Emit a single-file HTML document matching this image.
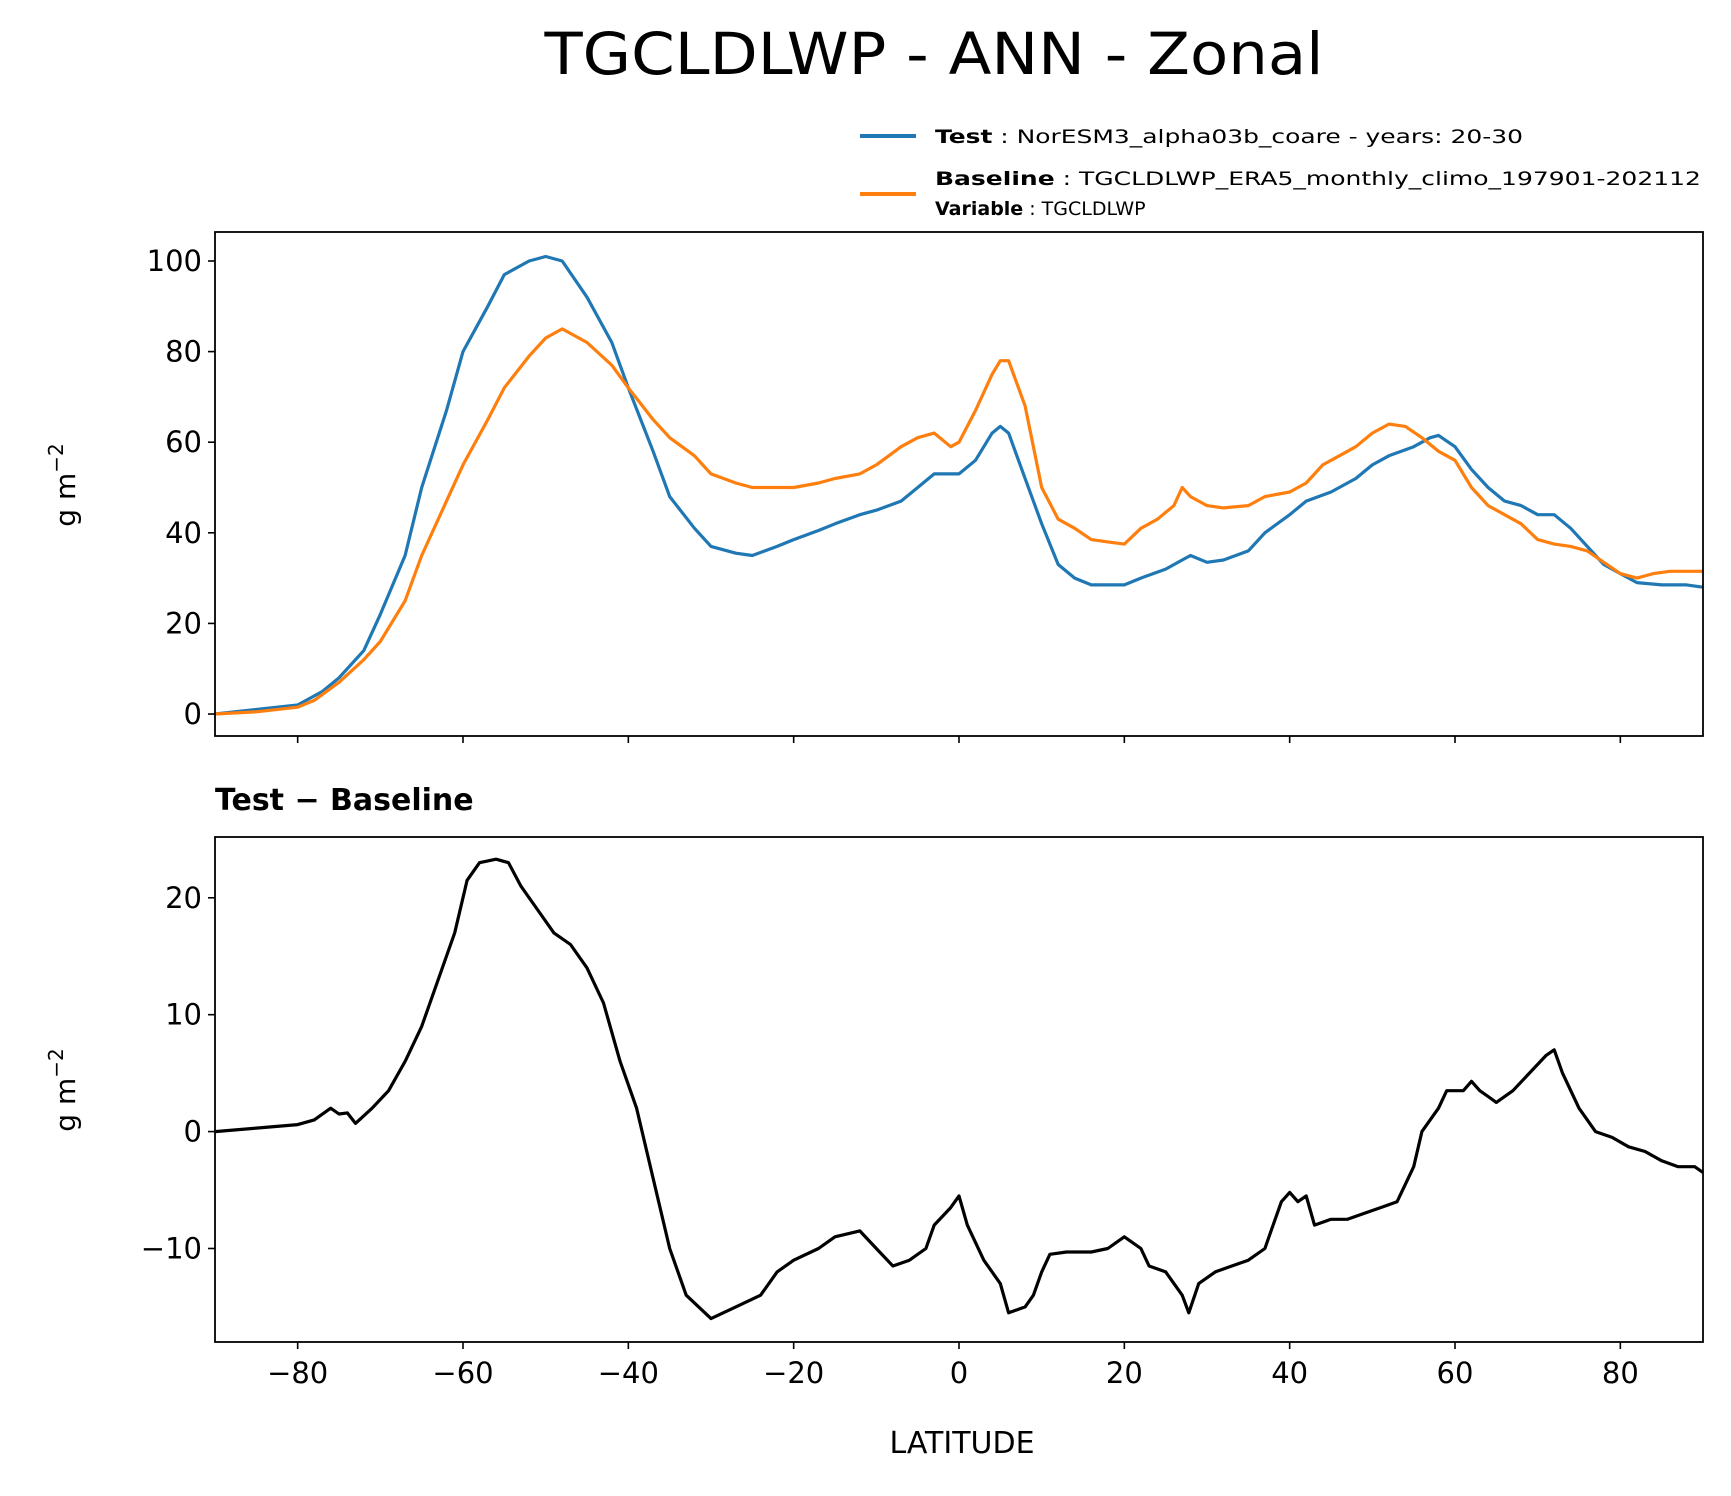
<!DOCTYPE html>
<html><head><meta charset="utf-8"><style>
html,body{margin:0;padding:0;background:#fff}
svg{display:block;font-family:"DejaVu Sans","Liberation Sans",sans-serif}
</style></head><body>
<svg id="fig" width="1731" height="1496" viewBox="0 0 1731 1496" xmlns="http://www.w3.org/2000/svg">
<text x="934" y="74" font-size="58" text-anchor="middle" textLength="779" lengthAdjust="spacingAndGlyphs">TGCLDLWP - ANN - Zonal</text>
<g>
<line x1="860" y1="136" x2="916" y2="136" stroke="#1f77b4" stroke-width="4"/>
<text x="935" y="143" font-size="19" textLength="588" lengthAdjust="spacingAndGlyphs"><tspan font-weight="bold">Test</tspan> : NorESM3_alpha03b_coare - years: 20-30</text>
<line x1="860" y1="194" x2="916" y2="194" stroke="#ff7f0e" stroke-width="4"/>
<text x="935" y="185" font-size="19" textLength="766" lengthAdjust="spacingAndGlyphs"><tspan font-weight="bold">Baseline</tspan> : TGCLDLWP_ERA5_monthly_climo_197901-202112</text>
<text x="935" y="215" font-size="19"><tspan font-weight="bold">Variable</tspan> : TGCLDLWP</text>
</g>
<text x="215" y="810" font-size="30" font-weight="bold">Test − Baseline</text>
<text x="0" y="0" font-size="28" text-anchor="middle" transform="translate(75,485) rotate(-90)">g m<tspan baseline-shift="super" font-size="20">−2</tspan></text>
<text x="0" y="0" font-size="28" text-anchor="middle" transform="translate(75,1090) rotate(-90)">g m<tspan baseline-shift="super" font-size="20">−2</tspan></text>
<text x="962" y="1453" font-size="30" text-anchor="middle">LATITUDE</text>
<g id="top"></g>
<g id="bot"></g>
</svg>
<script>
const lats = [-90,-85,-80,-77,-75,-72,-70,-67,-65,-62,-60,-57,-55,-52,-50,-48,-45,-42,-40,-37,-35,-32,-30,-27,-25,-22,-20,-17,-15,-12,-10,-7,-5,-3,0,2,4,5,6,8,10,12,14,16,18,20,22,25,27,28,30,32,35,37,40,42,45,48,50,52,55,57,58,60,62,64,66,68,70,72,74,76,78,80,82,85,88,90];
const testVals = [0,1,2,5,8,14,22,35,50,67,80,90,97,100,101,100,92,82,72,58,48,41,37,35.5,35,37,38.5,40.5,42,44,45,47,50,53,53,56,62,63.5,62,52,42,33,30,28.5,28.5,28.5,30,32,34,35,33.5,34,36,40,44,47,49,52,55,57,59,61,61.5,59,54,50,47,46,44,44,41,37,33,31,29,28.5,28.5,28];
const baseLats = [-90,-85,-80,-78,-75,-72,-70,-67,-65,-62,-60,-57,-55,-52,-50,-48,-45,-42,-40,-37,-35,-32,-30,-27,-25,-22,-20,-17,-15,-12,-10,-7,-5,-3,-1,0,2,4,5,6,8,10,12,14,16,18,20,22,24,26,27,28,30,32,35,37,40,42,44,46,48,50,52,54,56,58,60,62,64,66,68,70,72,74,76,78,80,82,84,86,90];
const baseVals = [0,0.5,1.5,3,7,12,16,25,35,47,55,65,72,79,83,85,82,77,72,65,61,57,53,51,50,50,50,51,52,53,55,59,61,62,59,60,67,75,78,78,68,50,43,41,38.5,38,37.5,41,43,46,50,48,46,45.5,46,48,49,51,55,57,59,62,64,63.5,61,58,56,50,46,44,42,38.5,37.5,37,36,33.5,31,30,31,31.5,31.5];
const diffLats = [-90,-85,-80,-78,-76,-75,-74,-73,-71,-69,-67,-65,-63,-61,-59.5,-58,-56,-54.5,-53,-51,-49,-47,-45,-43,-41,-39,-37,-35,-33,-30,-27,-24,-22,-20,-17,-15,-12,-10,-8,-6,-4,-3,-1,0,1,3,5,6,8,9,10,11,13,16,18,20,22,23,25,27,27.8,29,31,33,35,37,38,39,40,41,42,43,45,47,49,51,53,55,56,58,59,61,62,63,64,65,67,69,71,72,73,75,77,79,81,83,85,87,89,90];
const diffVals = [0,0.3,0.6,1,2,1.5,1.6,0.7,2,3.5,6,9,13,17,21.5,23,23.3,23,21,19,17,16,14,11,6,2,-4,-10,-14,-16,-15,-14,-12,-11,-10,-9,-8.5,-10,-11.5,-11,-10,-8,-6.5,-5.5,-8,-11,-13,-15.5,-15,-14,-12,-10.5,-10.3,-10.3,-10,-9,-10,-11.5,-12,-14,-15.5,-13,-12,-11.5,-11,-10,-8,-6,-5.2,-6,-5.5,-8,-7.5,-7.5,-7,-6.5,-6,-3,0,2,3.5,3.5,4.3,3.5,3,2.5,3.5,5,6.5,7,5,2,0,-0.5,-1.3,-1.7,-2.5,-3,-3,-3.5];
const xTicks = [-80,-60,-40,-20,0,20,40,60,80];
const topYTicks = [0,20,40,60,80,100];
const botYTicks = [-10,0,10,20];

const NS = "http://www.w3.org/2000/svg";
const L = 215, R = 1703;
const TT = 232, TB = 736, BT = 837, BB = 1342;
function xs(v){ return L + (v + 90) / 180 * (R - L); }
function mkY(top, bot, vmax, vmin){ return v => top + (vmax - v) / (vmax - vmin) * (bot - top); }
const yTop = mkY(TT, TB, 106.4, -4.85);
const yBot = mkY(BT, BB, 25.2, -18.0);
function el(tag, attrs, parent){ const e = document.createElementNS(NS, tag); for (const k in attrs) e.setAttribute(k, attrs[k]); parent.appendChild(e); return e; }

function axes(g, top, bot, ys, yTicks, showXLabels, prefix){
  yTicks.forEach(t => {
    const y = ys(t);
    const tk = el('line', {x1: L - 7, x2: L, y1: y, y2: y, stroke: '#000', 'stroke-width': 1.6}, g);
    
    
    const tx = el('text', {x: L - 13, y: y + 10, 'font-size': 29, 'text-anchor': 'end'}, g);
    tx.textContent = String(t).replace('-', '−');
    
    
  });
  xTicks.forEach(t => {
    const x = xs(t);
    const tk = el('line', {x1: x, x2: x, y1: bot, y2: bot + 7, stroke: '#000', 'stroke-width': 1.6}, g);
    
    
    if (showXLabels){
      const tx = el('text', {x: x, y: bot + 41, 'font-size': 29, 'text-anchor': 'middle'}, g);
      tx.textContent = String(t).replace('-', '−');
      
      
    }
  });
}
function line(g, xsArr, vals, ys, color, name){
  const d = vals.map((v, i) => (i ? 'L' : 'M') + xs(xsArr[i]).toFixed(1) + ',' + ys(v).toFixed(1)).join('');
  const p = el('path', {d: d, fill: 'none', stroke: color, 'stroke-width': 3.2, 'stroke-linejoin': 'round'}, g);
  
  
}
function frame(g, top, bot, name){
  const r = el('rect', {x: L, y: top, width: R - L, height: bot - top, fill: 'none', stroke: '#000', 'stroke-width': 1.8}, g);
  
  
}
const gT = document.getElementById('top');


axes(gT, TT, TB, yTop, topYTicks, false, 'top');
line(gT, lats, testVals, yTop, '#1f77b4', 'test-series-line');
line(gT, baseLats, baseVals, yTop, '#ff7f0e', 'baseline-series-line');
frame(gT, TT, TB, 'top-plot-frame');
const gB = document.getElementById('bot');


axes(gB, BT, BB, yBot, botYTicks, true, 'bottom');
line(gB, diffLats, diffVals, yBot, '#000', 'difference-series-line');
frame(gB, BT, BB, 'bottom-plot-frame');
</script>
</body></html>
